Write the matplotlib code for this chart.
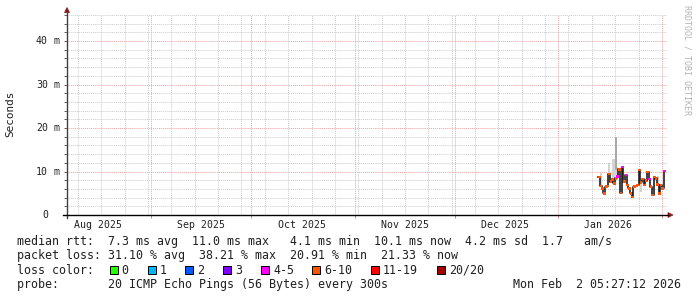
import pandas as pd
import matplotlib
matplotlib.use('Agg')
import matplotlib.pyplot as plt
import matplotlib.dates as mdates
import matplotlib.transforms as mtransforms
from matplotlib.ticker import MultipleLocator
from matplotlib.patches import Polygon, Rectangle
from matplotlib.lines import Line2D

# median rtt in ms, one value every 12 h starting 2026-01-13
median_ms = [8.7, 6.7, 6.1, 5.0, 6.5, 6.7, 9.4, 7.7, 8.2, 7.3,
             8.4, 8.8, 10.5, 5.1, 11.0, 7.7, 9.2, 6.9, 6.1, 5.0,
             4.1, 6.5, 6.7, 6.9, 10.3, 7.5, 8.3, 6.9, 7.9, 9.9,
             8.3, 6.5, 4.6, 8.7, 8.4, 7.0, 5.0, 6.9, 6.1, 10.1]
loss_bucket = ['6-10'] * 40
for i in [11, 14, 16, 30, 39]:
    loss_bucket[i] = '4-5'

# smoke (ping spread), light and dark bands
smoke_light_idx = [1, 6, 8, 9, 10, 11, 25, 35]
smoke_light_lo = [7.0, 7.3, 8.0, 8.0, 8.0, 8.8, 5.4, 7.0]
smoke_light_hi = [9.6, 11.9, 12.8, 12.8, 12.0, 11.1, 7.5, 9.0]
smoke_dark_idx = [10]
smoke_dark_lo = [10.3]
smoke_dark_hi = [18.0]

month_labels = ['Aug 2025', 'Sep 2025', 'Oct 2025', 'Nov 2025', 'Dec 2025', 'Jan 2026']
y_ticks = [0, 10, 20, 30, 40]
y_tick_labels = ['0', '10', '20', '30', '40']

loss_names = ['0', '1', '2', '3', '4-5', '6-10', '11-19', '20/20']
loss_colors = ['#26ff00', '#00b8ff', '#0059ff', '#7e00ff', '#ff00ff', '#ff5500', '#ff0000', '#a00000']
loss_box_x = [109.5, 147.7, 184.7, 223, 261.3, 312.2, 370.7, 437]

rtt_line = 'median rtt:  7.3 ms avg  11.0 ms max   4.1 ms min  10.1 ms now  4.2 ms sd  1.7   am/s'
loss_line = 'packet loss: 31.10 % avg  38.21 % max  20.91 % min  21.33 % now'
probe_line = 'probe:       20 ICMP Echo Pings (56 Bytes) every 300s'
stamp = 'Mon Feb  2 05:27:12 2026'

W, H = 697, 297
MONO = 'DejaVu Sans Mono'


def fx(x):
    return x / W


def fy(y):
    return 1 - y / H


fig = plt.figure(figsize=(W / 100, H / 100), dpi=100)
fig.patch.set_facecolor('white')
ax = fig.add_axes([fx(67), fy(215), 600 / W, 200 / H])

edges = pd.date_range('2026-01-13', periods=len(median_ms) + 1, freq='12h')
xe = mdates.date2num(edges.to_pydatetime())
xc = (xe[:-1] + xe[1:]) / 2

# smoke
for idx, lo, hi in zip(smoke_light_idx, smoke_light_lo, smoke_light_hi):
    ax.add_patch(Rectangle((xe[idx], lo), xe[idx + 1] - xe[idx], hi - lo,
                           facecolor='#d4d4d4', edgecolor='none', zorder=2))
for idx, lo, hi in zip(smoke_dark_idx, smoke_dark_lo, smoke_dark_hi):
    ax.add_patch(Rectangle((xe[idx], lo), xe[idx + 1] - xe[idx], hi - lo,
                           facecolor='#a8a8a8', edgecolor='none', zorder=2))

# median line
ax.step(xe, median_ms + [median_ms[-1]], where='post', color='#202020', lw=1.2, zorder=3)
cmap = dict(zip(loss_names, loss_colors))
ax.scatter(xc, median_ms, marker='s', s=3.2, c=[cmap[b] for b in loss_bucket],
           linewidths=0, zorder=4)

ax.set_xlim(mdates.date2num(pd.Timestamp('2025-08-06 17:00')),
            mdates.date2num(pd.Timestamp('2026-02-02 13:00')))
ax.set_ylim(0, 46)

ax.xaxis.set_major_locator(mdates.MonthLocator())
ax.xaxis.set_minor_locator(mdates.WeekdayLocator(byweekday=mdates.SU))
ax.yaxis.set_major_locator(MultipleLocator(10))
ax.yaxis.set_minor_locator(MultipleLocator(2))
ax.grid(which='minor', color='#cccccc', ls=(0, (1, 1)), lw=0.7)
ax.grid(which='major', color='#f0a0a0', ls=(0, (1, 1)), lw=0.7)
ax.set_axisbelow(True)
ax.tick_params(labelbottom=False, labelleft=False)
ax.tick_params(axis='x', which='major', length=2.5, width=0.7, color='#d08080')
ax.tick_params(axis='x', which='minor', length=0)
ax.tick_params(axis='y', which='both', length=2, width=0.7, color='#606060')
for s in ax.spines.values():
    s.set_visible(False)

# axes with arrows
fig.add_artist(Line2D([fx(67), fx(67)], [fy(218), fy(12)], color='#404040', lw=1.0))
fig.add_artist(Line2D([fx(63), fx(668)], [fy(215), fy(215)], color='black', lw=1.0))
fig.add_artist(Polygon([[fx(64.5), fy(12.5)], [fx(69.5), fy(12.5)], [fx(67), fy(7.5)]],
                       closed=True, facecolor='#8b1a1a', edgecolor='#8b1a1a', lw=0.5))
fig.add_artist(Polygon([[fx(668), fy(212.5)], [fx(668), fy(217.5)], [fx(673), fy(215)]],
                       closed=True, facecolor='#8b1a1a', edgecolor='#8b1a1a', lw=0.5))

# y tick labels
ty = mtransforms.blended_transform_factory(fig.transFigure, ax.transData)
for v, lab in zip(y_ticks, y_tick_labels):
    ax.text(fx(48), v, lab, transform=ty, ha='right', va='center',
            family=MONO, fontsize=7.1, color='#202020')
    if v != 0:
        ax.text(fx(53.5), v, 'm', transform=ty, ha='left', va='center',
                family=MONO, fontsize=7.1, color='#202020')

# month labels
tx = mtransforms.blended_transform_factory(ax.transData, fig.transFigure)
label_days = pd.date_range('2025-08-01', periods=len(month_labels), freq='MS') + pd.Timedelta(days=15)
for d, lab in zip(label_days, month_labels):
    ax.text(mdates.date2num(d), fy(228.5), lab, transform=tx, ha='center', va='baseline',
            family=MONO, fontsize=7.1, color='#202020')

fig.text(fx(10), fy(114), 'Seconds', rotation=90, ha='center', va='center',
         family=MONO, fontsize=7.9, color='#202020')
fig.text(fx(686.5), fy(60), 'RRDTOOL / TOBI OETIKER', rotation=-90, ha='center', va='center',
         family=MONO, fontsize=6.0, color='#b4b4b4')


def legend_text(x, y, s, **kw):
    fig.text(fx(x), fy(y), s, ha=kw.pop('ha', 'left'), va='baseline',
             family=MONO, fontsize=8.35, color='#202020', **kw)


legend_text(16.7, 245, rtt_line)
legend_text(16.7, 259.5, loss_line)

row3 = 273.5
legend_text(16.7, row3, 'loss color:')
for x, name, col in zip(loss_box_x, loss_names, loss_colors):
    fig.add_artist(Rectangle((fx(x), fy(273.5)), 8 / W, 8 / H, transform=fig.transFigure,
                             facecolor=col, edgecolor='black', lw=0.7))
    legend_text(x + 12.2, row3, name)

legend_text(16.7, 288, probe_line)
legend_text(681, 288, stamp, ha='right')

fig.savefig('out.png', dpi=100, facecolor='white')
